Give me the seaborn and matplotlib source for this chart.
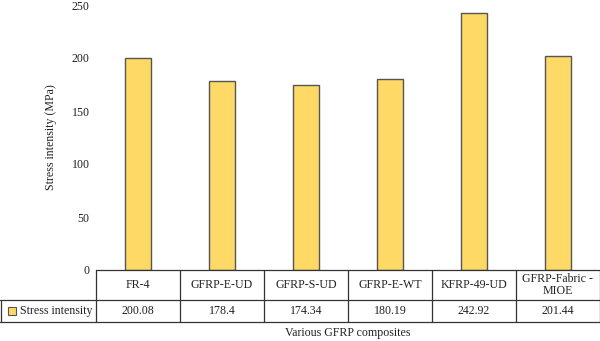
import matplotlib
matplotlib.use("Agg")
import matplotlib.pyplot as plt
import seaborn as sns
import pandas as pd
from matplotlib.lines import Line2D
from matplotlib.patches import Rectangle

categories = ["FR-4", "GFRP-E-UD", "GFRP-S-UD", "GFRP-E-WT", "KFRP-49-UD", "GFRP-Fabric -\nMIOE"]
values = [200.08, 178.4, 174.34, 180.19, 242.92, 201.44]
value_labels = ["200.08", "178.4", "174.34", "180.19", "242.92", "201.44"]
series_name = "Stress intensity"
y_ticks = [0, 50, 100, 150, 200, 250]

sns.set_theme(style="white")
plt.rcParams['font.family'] = ['Liberation Serif', 'DejaVu Serif']

W, H = 600, 341
FS = 8.6
fig = plt.figure(figsize=(6, 3.41), dpi=100)
x0, x1 = 96, 600
y_top, y_zero = 5, 270
ax = fig.add_axes([x0 / W, (H - y_zero) / H, (x1 - x0) / W, (y_zero - y_top) / H])

df = pd.DataFrame({"cat": categories, "val": values})
bar_color = "#FFD966"
sns.barplot(data=df, x="cat", y="val", ax=ax, color=bar_color, width=0.32,
            edgecolor="#555555", linewidth=1.0, saturation=1)
ax.set_xlim(-0.5, len(categories) - 0.5)
ax.set_ylim(0, 250)
ax.set_yticks(y_ticks)
ax.set_yticklabels([str(t) for t in y_ticks], fontsize=FS, color="#222222")
ax.tick_params(axis="y", length=0, pad=4.5)
ax.set_xticks([])
ax.set_xlabel("")
ax.set_ylabel("Stress intensity (MPa)", fontsize=FS, color="#222222")
ax.yaxis.set_label_coords((57 - x0) / (x1 - x0), 0.5)
for s in ax.spines.values():
    s.set_visible(False)

# data table below the axes (figure pixel coordinates)
def fx(px):
    return px / W

def fy(py):
    return (H - py) / H

lc = "#333333"
lw = 0.9
col_w = (x1 - x0) / len(categories)
r0, r1, r2 = 270, 300, 322
fig.add_artist(Line2D([fx(x0), fx(x1)], [fy(r0), fy(r0)], color=lc, lw=lw))
fig.add_artist(Line2D([fx(0), fx(x1)], [fy(r1), fy(r1)], color=lc, lw=lw))
fig.add_artist(Line2D([fx(0), fx(x1)], [fy(r2), fy(r2)], color=lc, lw=lw))
fig.add_artist(Line2D([fx(0.5), fx(0.5)], [fy(r1), fy(r2)], color=lc, lw=lw))
for i in range(len(categories) + 1):
    xx = x0 + i * col_w
    if i == len(categories):
        xx = x1 - 0.5
    fig.add_artist(Line2D([fx(xx), fx(xx)], [fy(r0), fy(r2)], color=lc, lw=lw))
for i, (c, v) in enumerate(zip(categories, value_labels)):
    cx = x0 + (i + 0.5) * col_w
    fig.text(fx(cx), fy((r0 + r1) / 2), c, ha="center", va="center", fontsize=FS,
             color="#222222", linespacing=1.1)
    fig.text(fx(cx), fy((r1 + r2) / 2), v, ha="center", va="center", fontsize=FS,
             color="#222222")
fig.add_artist(Rectangle((fx(8), fy(315)), 8 / W, 8 / H, facecolor=bar_color,
                         edgecolor="#555555", lw=0.8))
fig.text(fx(20), fy((r1 + r2) / 2), series_name, ha="left", va="center", fontsize=FS,
         color="#222222")
fig.text(fx(348), fy(333), "Various GFRP composites", ha="center", va="center",
         fontsize=FS, color="#222222")

fig.savefig("out.png", dpi=100)
